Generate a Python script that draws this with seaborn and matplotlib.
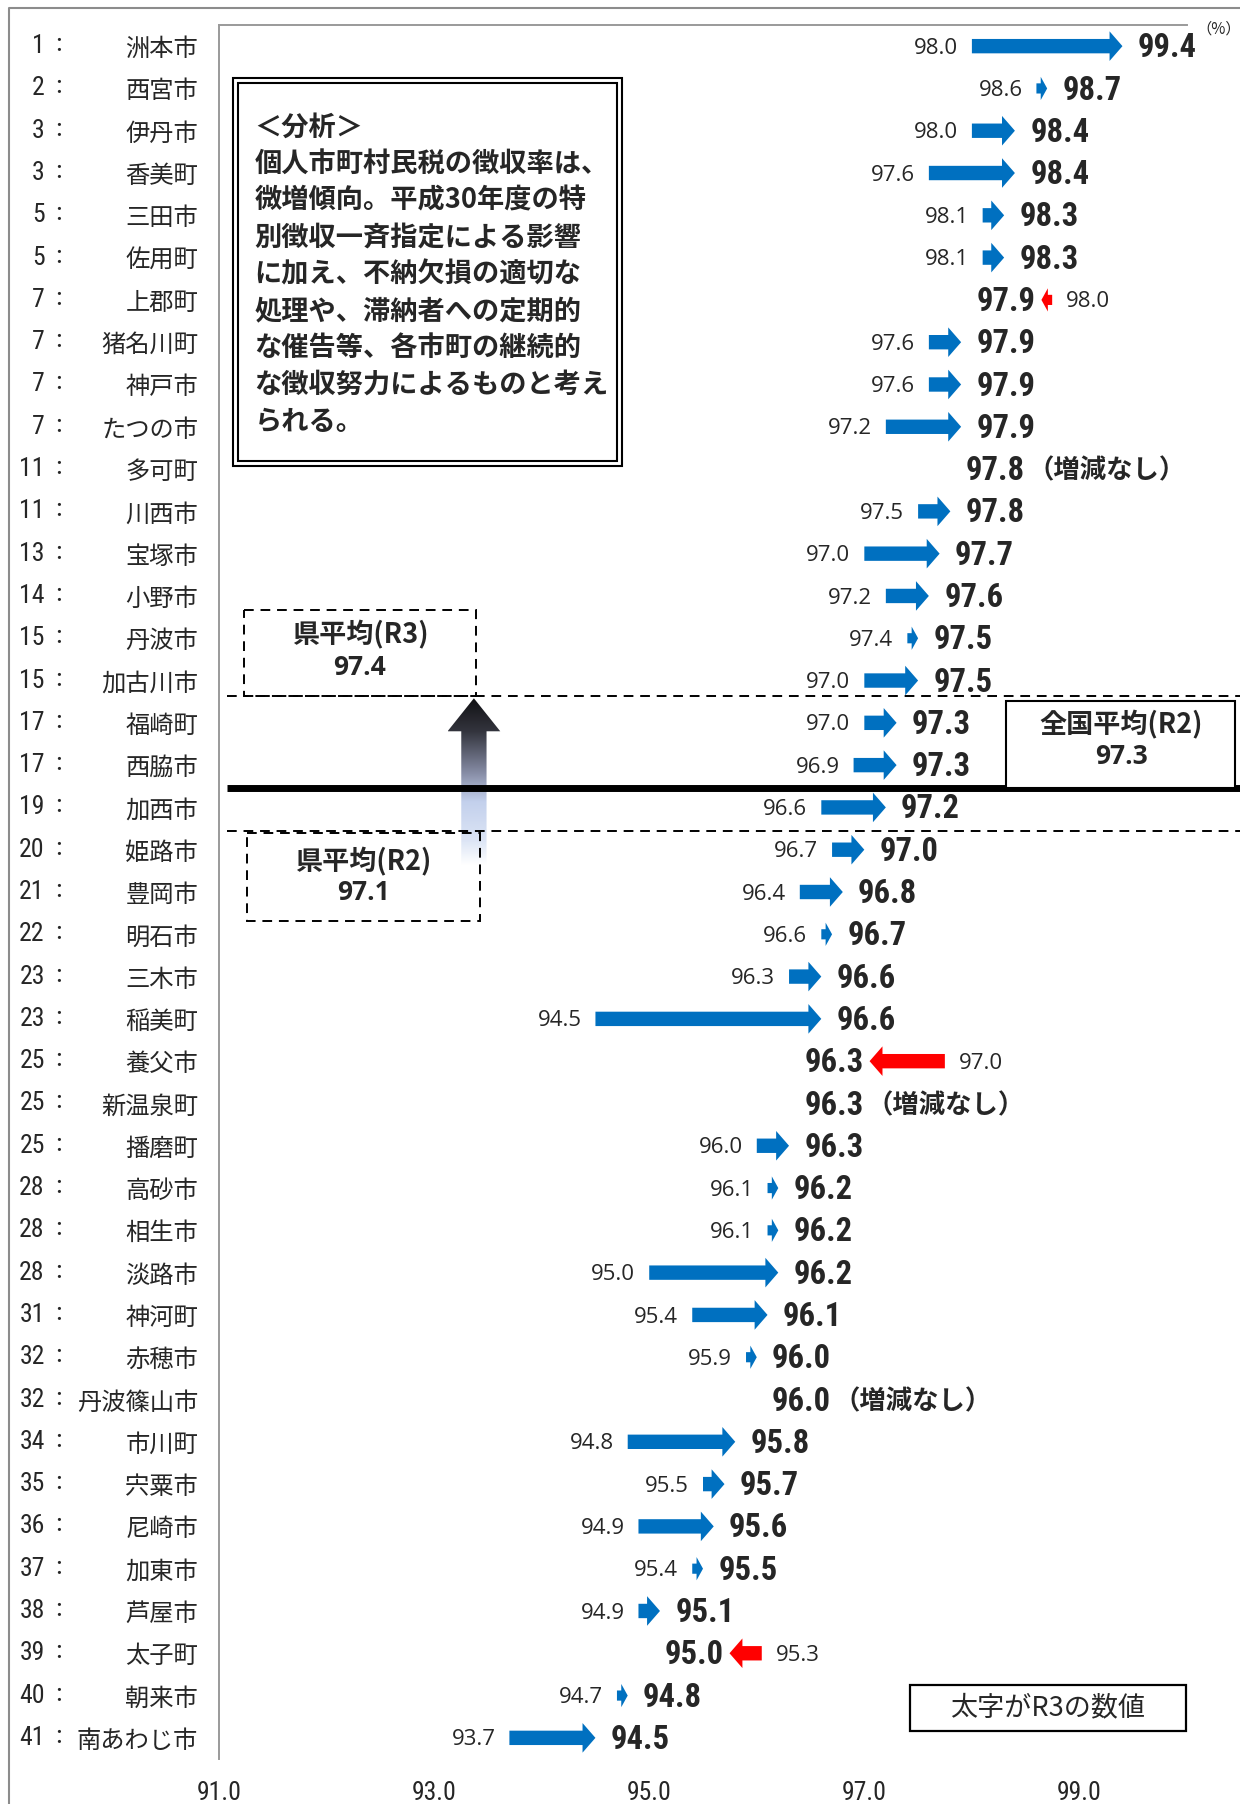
import matplotlib
matplotlib.use("Agg")
import matplotlib.pyplot as plt
import matplotlib.font_manager as fm
from matplotlib import transforms
from matplotlib.colors import LinearSegmentedColormap
from matplotlib.lines import Line2D
from matplotlib.patches import Rectangle, Polygon
import numpy as np
import seaborn as sns

# ---- data (R2 -> R3 individual municipal tax collection rate, %) ----
ranks = [1, 2, 3, 3, 5, 5, 7, 7, 7, 7, 11, 11, 13, 14, 15, 15, 17, 17, 19, 20, 21,
         22, 23, 23, 25, 25, 25, 28, 28, 28, 31, 32, 32, 34, 35, 36, 37, 38, 39, 40, 41]
cities = ["洲本市", "西宮市", "伊丹市", "香美町", "三田市", "佐用町", "上郡町", "猪名川町",
          "神戸市", "たつの市", "多可町", "川西市", "宝塚市", "小野市", "丹波市", "加古川市",
          "福崎町", "西脇市", "加西市", "姫路市", "豊岡市", "明石市", "三木市", "稲美町",
          "養父市", "新温泉町", "播磨町", "高砂市", "相生市", "淡路市", "神河町", "赤穂市",
          "丹波篠山市", "市川町", "宍粟市", "尼崎市", "加東市", "芦屋市", "太子町", "朝来市",
          "南あわじ市"]
rateR2 = [98.0, 98.6, 98.0, 97.6, 98.1, 98.1, 98.0, 97.6, 97.6, 97.2, 97.8, 97.5, 97.0,
          97.2, 97.4, 97.0, 97.0, 96.9, 96.6, 96.7, 96.4, 96.6, 96.3, 94.5, 97.0, 96.3,
          96.0, 96.1, 96.1, 95.0, 95.4, 95.9, 96.0, 94.8, 95.5, 94.9, 95.4, 94.9, 95.3,
          94.7, 93.7]
rateR3 = [99.4, 98.7, 98.4, 98.4, 98.3, 98.3, 97.9, 97.9, 97.9, 97.9, 97.8, 97.8, 97.7,
          97.6, 97.5, 97.5, 97.3, 97.3, 97.2, 97.0, 96.8, 96.7, 96.6, 96.6, 96.3, 96.3,
          96.3, 96.2, 96.2, 96.2, 96.1, 96.0, 96.0, 95.8, 95.7, 95.6, 95.5, 95.1, 95.0,
          94.8, 94.5]
xTicks = [91.0, 93.0, 95.0, 97.0, 99.0]
prefAvgR3 = 97.4
prefAvgR2 = 97.1
nationalAvgR2 = 97.3
analysisLines = ["＜分析＞", "個人市町村民税の徴収率は、", "微増傾向。平成30年度の特",
                 "別徴収一斉指定による影響", "に加え、不納欠損の適切な",
                 "処理や、滞納者への定期的", "な催告等、各市町の継続的",
                 "な徴収努力によるものと考え", "られる。"]

# reference line rows (between ranked rows)
rowPrefR3 = 15.37
rowNational = 17.55
rowPrefR2 = 18.55

BLUE = "#0070C0"
RED = "#FF0000"

sns.set_theme(style="white")
plt.rcParams["font.family"] = ["Noto Sans CJK JP", "DejaVu Sans"]

available = {f.name for f in fm.fontManager.ttflist}
narrow = next((n for n in ["Roboto Condensed", "Liberation Sans Narrow", "Open Sans Condensed",
                           "Roboto"] if n in available), "DejaVu Sans")
smallFont = "Open Sans" if "Open Sans" in available else "DejaVu Sans"
jp = "Noto Sans CJK JP"

fig = plt.figure(figsize=(12.4, 18.04), dpi=100)
ax = fig.add_axes([219 / 1240, 1 - 1759 / 1804, (1187 - 219) / 1240, (1759 - 25) / 1804])
nRows = len(cities)
ax.set_xlim(91, 100)
ax.set_ylim(nRows - 0.5, -0.5)
ax.set_autoscale_on(False)

sns.despine(ax=ax, top=False, right=True, left=False, bottom=True)
ax.xaxis.set_ticks_position("bottom")
for side in ["top", "left"]:
    ax.spines[side].set_color("#9a9a9a")
    ax.spines[side].set_linewidth(1.4)

ax.set_xticks(xTicks)
ax.set_xticklabels([f"{v:.1f}" for v in xTicks], family=[narrow, jp], fontsize=18.5)
ax.set_yticks(range(nRows))
ax.set_yticklabels(cities, family=jp, fontsize=17.5)
ax.tick_params(axis="x", length=0, pad=16, labelbottom=True, labeltop=False)
ax.tick_params(axis="y", length=0, pad=15)

rankTrans = transforms.blended_transform_factory(fig.transFigure, ax.transData)
for i, rk in enumerate(ranks):
    ax.text(0.036, i, str(rk), transform=rankTrans, ha="right", va="center",
            fontsize=18.5, family=[narrow, jp])
    ax.text(0.047, i, "：", transform=rankTrans, ha="center", va="center",
            fontsize=15, family=jp)


def drawArrow(x, y, dx, color):
    length = abs(dx)
    small = length < 0.15
    ax.arrow(x, y, dx, 0, width=0.24 if small else 0.34,
             head_width=0.55 if small else 0.7, head_length=min(0.12, length * 0.6),
             length_includes_head=True, color=color, lw=0, zorder=3)


redRows = []
for i, (r2, r3) in enumerate(zip(rateR2, rateR3)):
    diff = round(r3 - r2, 2)
    boldTxt = ax.annotate(f"{r3:.1f}", xy=(r3, i), xytext=(11, -1.5), textcoords="offset points",
                          ha="left", va="center", fontsize=23.5, fontweight="bold",
                          family=[narrow, jp], zorder=4)
    if diff == 0:
        ax.annotate("（増減なし）", xy=(1, 0.5), xycoords=boldTxt, xytext=(2, 0),
                    textcoords="offset points", ha="left", va="center", fontsize=19,
                    fontweight="bold", family=jp)
    elif diff > 0:
        drawArrow(r2, i, diff, BLUE)
        ax.annotate(f"{r2:.1f}", xy=(r2, i), xytext=(-10, -1.5), textcoords="offset points",
                    ha="right", va="center", fontsize=16, family=smallFont)
    else:
        redRows.append((i, r2, r3, boldTxt))

# reference lines
ax.plot([91.07, 100.5], [rowPrefR3, rowPrefR3], color="black", lw=1.4,
        ls=(0, (5, 3.5)), clip_on=False, zorder=2)
ax.plot([91.07, 100.5], [rowPrefR2, rowPrefR2], color="black", lw=1.4,
        ls=(0, (5, 3.5)), clip_on=False, zorder=2)

# gradient arrow showing prefecture average rising
cx, tipRow, baseRow, bottomRow = 93.37, rowPrefR3 + 0.05, 16.2, 19.35
sw, hw = 0.235, 0.49
gradPoly = Polygon([(cx, tipRow), (cx + hw / 2, baseRow), (cx + sw / 2, baseRow),
                    (cx + sw / 2, bottomRow), (cx - sw / 2, bottomRow),
                    (cx - sw / 2, baseRow), (cx - hw / 2, baseRow)],
                   closed=True, facecolor="none", edgecolor="none")
ax.add_patch(gradPoly)
gradCmap = LinearSegmentedColormap.from_list(
    "grad", [(0, "#111114"), (0.2, "#34353e"), (0.45, "#878da6"), (0.62, "#c3d0ec"),
             (0.85, "#dbe4f5"), (1.0, "#ffffff")])
grad = np.linspace(0, 1, 256).reshape(-1, 1)
im = ax.imshow(grad, cmap=gradCmap, aspect="auto", origin="upper",
               extent=(cx - hw / 2, cx + hw / 2, bottomRow, tipRow), zorder=1)
im.set_clip_path(gradPoly)

ax.plot([91.07, 100.5], [rowNational, rowNational], color="black", lw=5,
        solid_capstyle="butt", clip_on=False, zorder=2)

# average boxes
ax.add_patch(Rectangle((91.23, 13.34), 2.16, rowPrefR3 - 13.34, fill=False, ec="black",
                       lw=1.4, ls=(0, (5, 3.5)), zorder=2))
ax.text(92.31, 13.93, "県平均(R3)", ha="center", va="center", fontsize=19.5,
        fontweight="bold", family=jp)
ax.text(92.31, 14.69, f"{prefAvgR3:.1f}", ha="center", va="center", fontsize=19,
        fontweight="bold", family=[smallFont, jp])
ax.add_patch(Rectangle((91.26, rowPrefR2 + 0.05), 2.17, 2.08, fill=False, ec="black",
                       lw=1.4, ls=(0, (5, 3.5)), zorder=2))
ax.text(92.34, 19.29, "県平均(R2)", ha="center", va="center", fontsize=19.5,
        fontweight="bold", family=jp)
ax.text(92.34, 20.02, f"{prefAvgR2:.1f}", ha="center", va="center", fontsize=19,
        fontweight="bold", family=[smallFont, jp])
ax.add_patch(Rectangle((98.32, 15.49), 2.13, rowNational - 15.49, fill=True, fc="white",
                       ec="black", lw=1.5, clip_on=False, zorder=2))
ax.text(99.39, 16.05, "全国平均(R2)", ha="center", va="center", fontsize=19.5,
        fontweight="bold", family=jp, clip_on=False)
ax.text(99.39, 16.79, f"{nationalAvgR2:.1f}", ha="center", va="center", fontsize=19,
        fontweight="bold", family=[smallFont, jp], clip_on=False)

# analysis box (double border)
ax.add_patch(Rectangle((91.13, 0.76), 3.62, 9.16, fill=True, fc="white", ec="black",
                       lw=1.5, zorder=2))
ax.add_patch(Rectangle((91.176, 0.88), 3.528, 8.92, fill=False, ec="black", lw=1.5,
                       zorder=2))
for k, line in enumerate(analysisLines):
    ax.text(91.33, 1.92 + k * 0.87, line, ha="left", va="center", fontsize=19.6,
            fontweight="bold", family=jp, zorder=3)

# legend note
ax.add_patch(Rectangle((97.42, 38.75), 2.57, 1.08, fill=True, fc="white", ec="black",
                       lw=1.6, clip_on=False, zorder=2))
ax.text(98.70, 39.29, "太字がR3の数値", ha="center", va="center", fontsize=19.5, family=jp)

fig.text(0.983, 0.984, "（%）", ha="center", va="center", fontsize=11, family=jp)
fig.add_artist(Line2D([0.007, 0.007, 1.0], [0.0, 0.9955, 0.9955], transform=fig.transFigure,
                      color="#8c8c8c", lw=1.5))

# red (decrease) arrows placed to the right of the bold R3 label
fig.canvas.draw()
inv = ax.transData.inverted()
for i, r2, r3, txt in redRows:
    bb = txt.get_window_extent()
    tipX = inv.transform((bb.x1 + 6, 0))[0]
    diff = r2 - r3
    drawArrow(tipX + diff, i, -diff, RED)
    ax.annotate(f"{r2:.1f}", xy=(tipX + diff, i), xytext=(10, -1.5), textcoords="offset points",
                ha="left", va="center", fontsize=16, family=smallFont)

fig.savefig("out.png", dpi=100)
